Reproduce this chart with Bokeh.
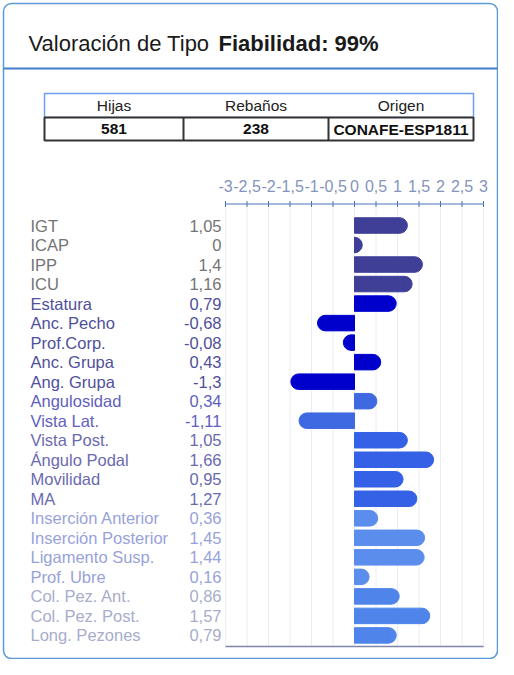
import math
from bokeh.plotting import figure
from bokeh.models import Range1d, ColumnDataSource
from bokeh.core.properties import value
from bokeh.embed import file_html
from bokeh.resources import INLINE

# ---------------- data ----------------
title_normal = "Valoración de Tipo"
title_bold = "Fiabilidad: 99%"

table_headers = ["Hijas", "Rebaños", "Origen"]
table_values = ["581", "238", "CONAFE-ESP1811"]

traits = ["IGT", "ICAP", "IPP", "ICU", "Estatura", "Anc. Pecho", "Prof.Corp.",
          "Anc. Grupa", "Ang. Grupa", "Angulosidad", "Vista Lat.", "Vista Post.",
          "Ángulo Podal", "Movilidad", "MA", "Inserción Anterior",
          "Inserción Posterior", "Ligamento Susp.", "Prof. Ubre",
          "Col. Pez. Ant.", "Col. Pez. Post.", "Long. Pezones"]
scores = [1.05, 0, 1.4, 1.16, 0.79, -0.68, -0.08, 0.43, -1.3, 0.34, -1.11, 1.05,
          1.66, 0.95, 1.27, 0.36, 1.45, 1.44, 0.16, 0.86, 1.57, 0.79]
groups = (["indices"] * 4 + ["estructura"] * 5 + ["angulosidad"] * 2 +
          ["patas"] * 4 + ["ubre"] * 4 + ["pezones"] * 3)

tick_values = [-3, -2.5, -2, -1.5, -1, -0.5, 0, 0.5, 1, 1.5, 2, 2.5, 3]
tick_labels = ["-3", "-2,5", "-2", "-1,5", "-1", "-0,5", "0", "0,5", "1",
               "1,5", "2", "2,5", "3"]

# ---------------- styles ----------------
bar_colors = {"indices": "#3f3f98", "estructura": "#0000cc", "angulosidad": "#3e69e0",
              "patas": "#3561e6", "ubre": "#5b8ded", "pezones": "#4f84ea"}
label_colors = {"indices": "#747474", "estructura": "#50509c", "angulosidad": "#6060c0",
                "patas": "#6a6ab0", "ubre": "#98a2da", "pezones": "#a7adcb"}
FONT = value("Liberation Sans")

# ---------------- layout (figure pixels) ----------------
W, H = 498, 659
AX_L, AX_R = 225, 483          # pixel positions of -3 and 3
AX_TOP_Y, AX_BOT_Y = 203.5, 646
ROW0_Y, ROW_STEP = 225, 19.52
BAR_H_PX = 16.5

vpp = (tick_values[-1] - tick_values[0]) / (AX_R - AX_L)
val_range = Range1d(tick_values[0] - AX_L * vpp, tick_values[-1] + (W - AX_R) * vpp)
rows_range = Range1d(start=(H - ROW0_Y) / ROW_STEP, end=-ROW0_Y / ROW_STEP)

p = figure(width=W, height=H, x_range=Range1d(0, W), y_range=Range1d(H, 0),
           output_backend="svg", toolbar_location=None,
           x_axis_type=None, y_axis_type=None, min_border=0,
           outline_line_color=None, background_fill_color="white",
           border_fill_color="white")
p.extra_x_ranges = {"val": val_range}
p.extra_y_ranges = {"rows": rows_range}

# card
p.quad(left=3, right=W - 1, top=3, bottom=H - 1, fill_color=None,
       line_color="#5b9bd5", line_width=1.5, border_radius=8)
p.segment(x0=3, y0=68, x1=W - 1, y1=68, line_color="#3f80c8", line_width=2)

# title
p.text(x=[28], y=[43], text=[title_normal], text_font=FONT, text_font_size="22px",
       text_baseline="alphabetic", text_color="#1a1a1a")
p.text(x=[218], y=[43], text=[title_bold], text_font=FONT, text_font_size="22px",
       text_font_style="bold", text_baseline="alphabetic", text_color="#1a1a1a")

# table
edges = [44, 183, 328, 473]
centers = [(edges[i] + edges[i + 1]) / 2 for i in range(3)]
p.quad(left=edges[0], right=edges[-1], top=93, bottom=117, fill_color="white",
       line_color="#6d9eeb", line_width=1.5)
p.quad(left=edges[0], right=edges[-1], top=117, bottom=140, fill_color="white",
       line_color="#333333", line_width=2)
p.segment(x0=edges[1:3], y0=[117, 117], x1=edges[1:3], y1=[140, 140],
          line_color="#333333", line_width=2)
p.text(x=centers, y=[105] * 3, text=table_headers, text_font=FONT, text_font_size="15.5px",
       text_align="center", text_baseline="middle", text_color="#222222")
p.text(x=centers, y=[128.5] * 3, text=table_values, text_font=FONT, text_font_size="15.5px",
       text_font_style="bold", text_align="center", text_baseline="middle",
       text_color="#111111")

# grid + axes
n = len(tick_values)
p.segment(x0=tick_values, y0=[AX_TOP_Y] * n, x1=tick_values, y1=[AX_BOT_Y] * n,
          x_range_name="val", line_color="#e9ecf5", line_width=1)
p.segment(x0=[tick_values[0]], y0=[AX_TOP_Y], x1=[tick_values[-1]], y1=[AX_TOP_Y],
          x_range_name="val", line_color="#4a74b8", line_width=1)
p.segment(x0=tick_values, y0=[AX_TOP_Y - 3] * n, x1=tick_values, y1=[AX_TOP_Y + 3] * n,
          x_range_name="val", line_color="#4a74b8", line_width=1)
p.text(x=tick_values, y=[185] * n, text=tick_labels, x_range_name="val",
       text_font=FONT, text_font_size="16px", text_align="center",
       text_baseline="middle", text_color="#8494bd")
p.segment(x0=[tick_values[0]], y0=[AX_BOT_Y], x1=[tick_values[-1]], y1=[AX_BOT_Y],
          x_range_name="val", line_color="#7c86a8", line_width=1.5)

# bars
src = ColumnDataSource(dict(
    row=list(range(len(traits))),
    trait=traits,
    score=scores,
    vlabel=[f"{v:g}".replace(".", ",") for v in scores],
    bar_color=[bar_colors[g] for g in groups],
    label_color=[label_colors[g] for g in groups],
    sa=[-math.pi / 2 if v >= 0 else math.pi / 2 for v in scores],
    ea=[math.pi / 2 if v >= 0 else 3 * math.pi / 2 for v in scores],
))
p.hbar(y="row", left=0, right="score", height=(BAR_H_PX - 1) / ROW_STEP,
       fill_color="bar_color", line_color="bar_color", line_width=1, source=src,
       x_range_name="val", y_range_name="rows")
p.wedge(x="score", y="row", radius=(BAR_H_PX - 1) / 2, radius_units="screen",
        start_angle="sa", end_angle="ea", fill_color="bar_color",
        line_color="bar_color", line_width=1, source=src,
        x_range_name="val", y_range_name="rows")

# row labels
p.text(x=30, y="row", text="trait", text_color="label_color", text_font=FONT,
       text_font_size="16.5px", text_baseline="middle", source=src, y_range_name="rows")
p.text(x=221, y="row", text="vlabel", text_color="label_color", text_font=FONT,
       text_font_size="16.5px", text_baseline="middle", text_align="right",
       source=src, y_range_name="rows")

open("out.html", "w").write(file_html(p, INLINE))
